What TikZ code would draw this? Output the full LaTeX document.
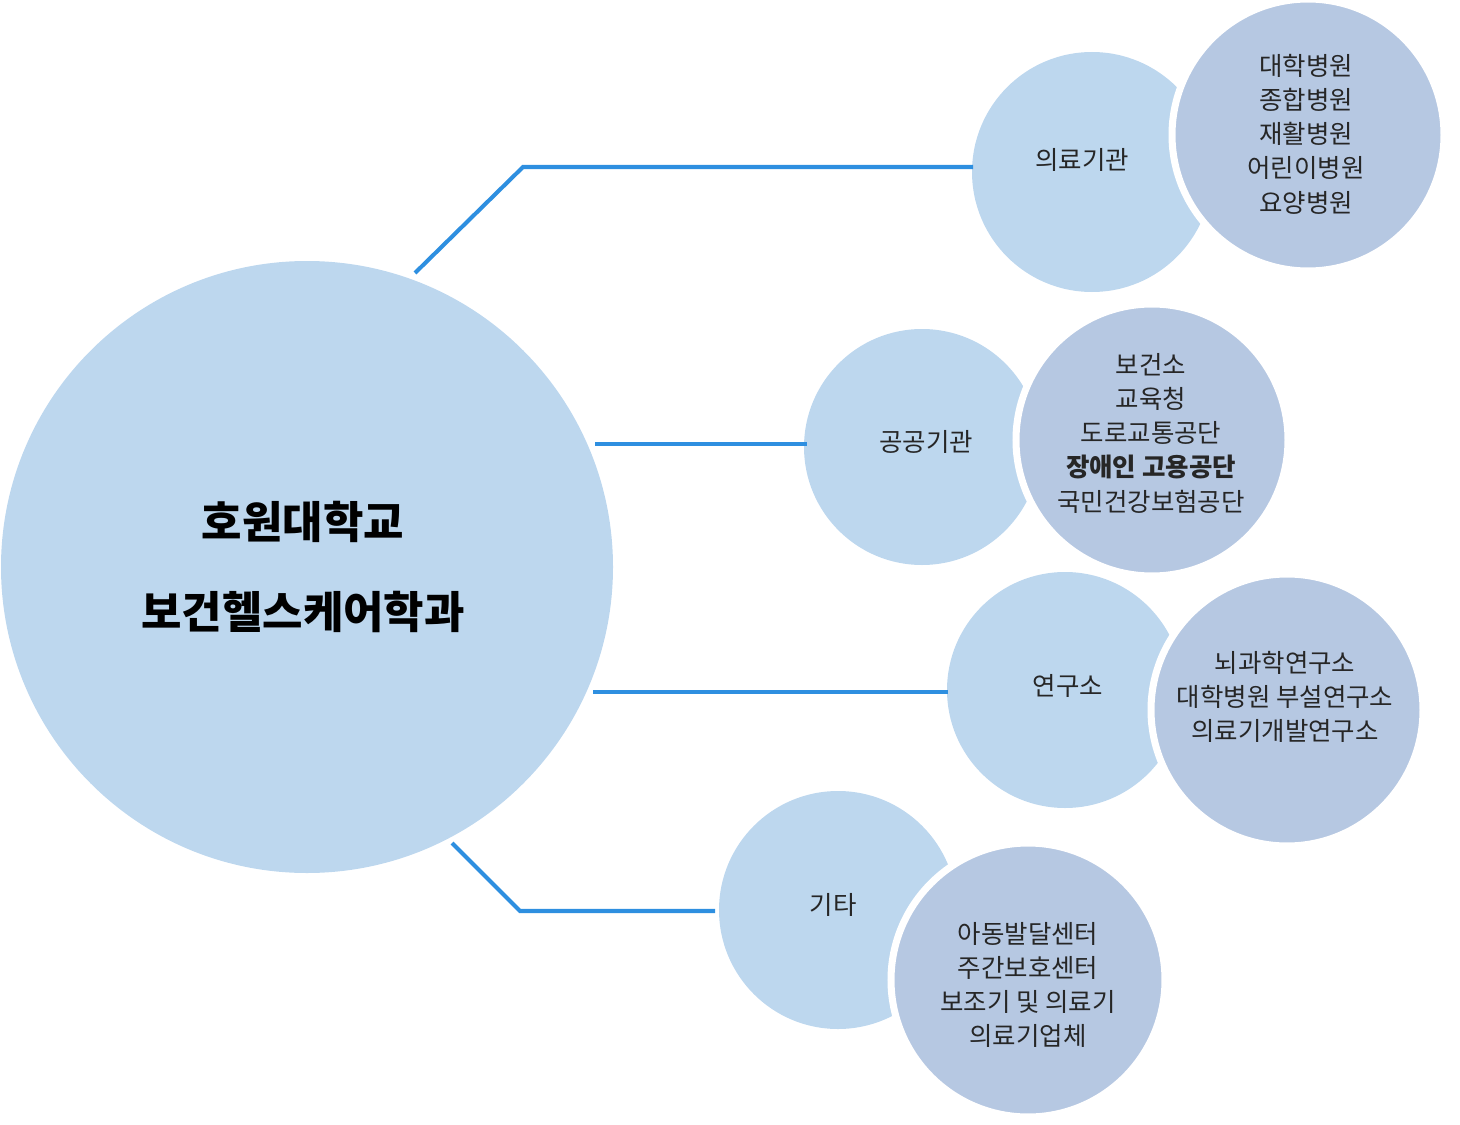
\documentclass[tikz,border=0pt]{standalone}
\usepackage{fontspec}
\setmainfont{Noto Sans CJK KR}
\definecolor{lightc}{HTML}{BDD7EE}
\definecolor{darkc}{HTML}{B6C8E2}
\definecolor{linec}{HTML}{2E8FE0}
\begin{document}
\begin{tikzpicture}[x=0.02cm,y=-0.02cm]
\tikzset{
 lc/.style={circle,fill=lightc,minimum size=#1,inner sep=0pt},
 dc/.style={circle,fill=darkc,draw=white,line width=4pt,minimum size=#1,inner sep=0pt},
 lbl/.style={font=\fontsize{14.5}{19.5}\selectfont,align=center,text=black!85},
 conn/.style={draw=linec,line width=2.3pt}
}
\useasboundingbox (0,0) rectangle (1460,1125);
\node[lc=612*0.02cm] (main) at (307,567) {};
\node[font=\fontsize{25}{51}\selectfont\bfseries,align=center] (title) at (303,567) {호원대학교\\보건헬스케어학과};
% medical
\node[lc=240*0.02cm] (m1) at (1092,172) {};
\node[dc=272*0.02cm] (m2) at (1308,135) {};
\node[lbl] (m1t) at (1082,160) {의료기관};
\node[lbl] (m2t) at (1306,134) {대학병원\\종합병원\\재활병원\\어린이병원\\요양병원};
% public
\node[lc=236*0.02cm] (p1) at (922,447) {};
\node[dc=272*0.02cm] (p2) at (1152,440) {};
\node[lbl] (p1t) at (926,442) {공공기관};
\node[lbl] (p2t) at (1151,433) {보건소\\교육청\\도로교통공단\\\textbf{장애인 고용공단}\\국민건강보험공단};
% research
\node[lc=236*0.02cm] (r1) at (1065,690) {};
\node[dc=272*0.02cm] (r2) at (1287,710) {};
\node[lbl] (r1t) at (1068,686) {연구소};
\node[lbl] (r2t) at (1285,697) {뇌과학연구소\\대학병원 부설연구소\\의료기개발연구소};
% other
\node[lc=238*0.02cm] (o1) at (838,910) {};
\node[dc=274*0.02cm] (o2) at (1028,980) {};
\node[lbl] (o1t) at (833,905) {기타};
\node[lbl] (o2t) at (1028,985) {아동발달센터\\주간보호센터\\보조기 및 의료기\\의료기업체};
% connectors
\coordinate (a0) at (415,273); \coordinate (a1) at (523,167); \coordinate (a2) at (973,167);
\coordinate (b0) at (595,444); \coordinate (b1) at (807,444);
\coordinate (c0) at (593,692); \coordinate (c1) at (948,692);
\coordinate (d0) at (452,843); \coordinate (d1) at (520,911); \coordinate (d2) at (715,911);
\draw[conn] (a0) -- (a1) -- (a2);
\draw[conn] (b0) -- (b1);
\draw[conn] (c0) -- (c1);
\draw[conn] (d0) -- (d1) -- (d2);
\end{tikzpicture}
\end{document}
